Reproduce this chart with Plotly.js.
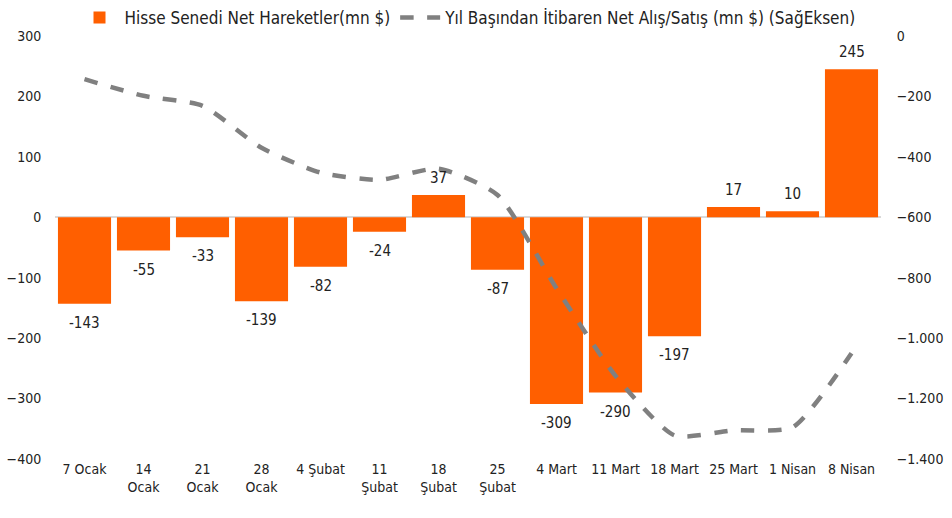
<!DOCTYPE html>
<html><head><meta charset="utf-8">
<script src="https://cdn.plot.ly/plotly-3.0.1.min.js"></script>
<style>body{margin:0;background:#fff}#c{width:952px;height:518px}</style>
</head><body><div id="c"></div>
<script>
const categories = ["7 Ocak","14<br>Ocak","21<br>Ocak","28<br>Ocak","4 Şubat","11<br>Şubat","18<br>Şubat","25<br>Şubat","4 Mart","11 Mart","18 Mart","25 Mart","1 Nisan","8 Nisan"];
const weeklyNet = [-143,-55,-33,-139,-82,-24,37,-87,-309,-290,-197,17,10,245];
const cumulativeNet = [-143,-198,-231,-370,-452,-476,-439,-526,-835,-1125,-1322,-1305,-1295,-1050];
const barName = "Hisse Senedi Net Hareketler(mn $)";
const lineName = "Yıl Başından İtibaren Net Alış/Satış (mn $) (SağEksen)";

const font = "'DejaVu Sans Condensed',Arial,sans-serif";
const data = [
  {type:'bar', x:categories, y:weeklyNet, name:barName,
   marker:{color:'#FF5F00'}, hoverinfo:'none'},
  {type:'scatter', mode:'lines', x:categories, y:cumulativeNet, name:lineName, yaxis:'y2',
   line:{color:'#808080', width:4.5, dash:'dash', shape:'spline', smoothing:0.6}}
];
const annotations = weeklyNet.map((v,i)=>({
  x:categories[i], y:v, xref:'x', yref:'y', text:String(v), showarrow:false,
  yanchor: v>=0 ? 'bottom' : 'top', yshift: v>=0 ? 6 : -8,
  font:{size:15, color:'#222', family:font}
}));
const layout = {
  width:952, height:518,
  margin:{l:55, r:71, t:32, b:59},
  paper_bgcolor:'#fff', plot_bgcolor:'#fff',
  separators:',.',
  font:{family:font, size:14, color:'#222'},
  bargap:0.1,
  showlegend:true,
  annotations:annotations,
  legend:{orientation:'h', x:0.5, xanchor:'center', xref:'paper', yref:'container', y:1.0, yanchor:'top', font:{size:17}, traceorder:'normal', itemwidth:40},
  xaxis:{showgrid:false, zeroline:false, showline:false, ticks:'', tickangle:0, tickfont:{size:14}, automargin:false},
  yaxis:{range:[-400,300], dtick:100, showgrid:false, zeroline:true, zerolinecolor:'#d9d9d9', zerolinewidth:2, ticks:'outside', ticklen:10, tickcolor:'rgba(0,0,0,0)', tickfont:{size:14}, automargin:false},
  yaxis2:{overlaying:'y', side:'right', range:[-1400,0], dtick:200, showgrid:false, zeroline:false, separatethousands:true, ticks:'outside', ticklen:12, tickcolor:'rgba(0,0,0,0)', tickfont:{size:14}, automargin:false}
};
Plotly.newPlot('c', data, layout, {displayModeBar:false, staticPlot:true});
</script></body></html>
